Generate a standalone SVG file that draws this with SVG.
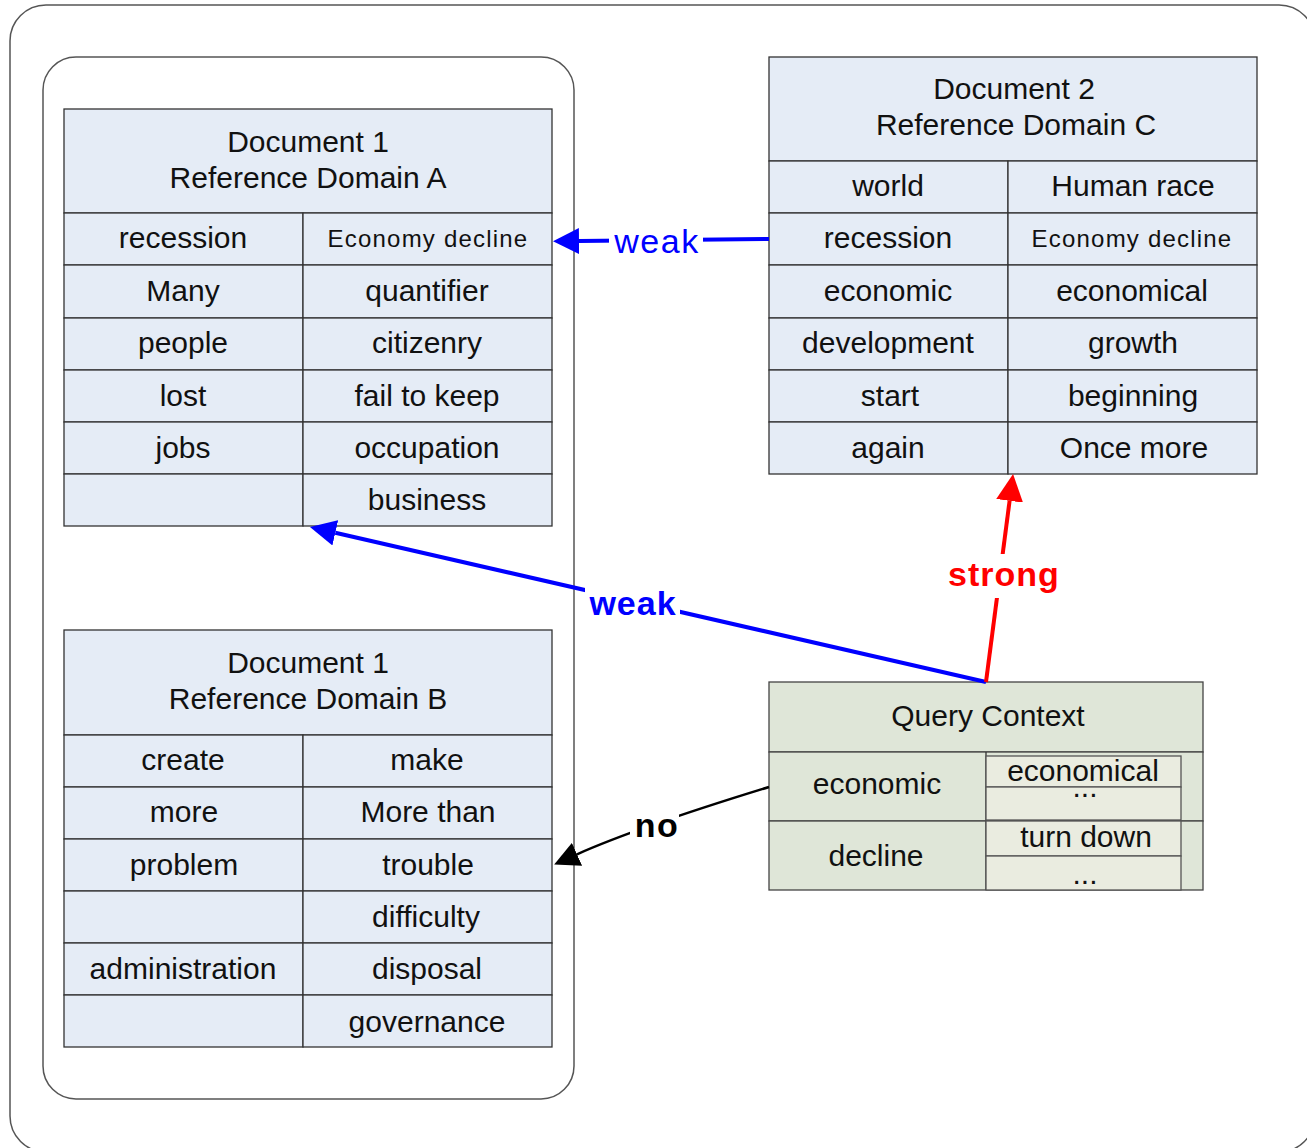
<svg xmlns="http://www.w3.org/2000/svg" width="1307" height="1148" viewBox="0 0 1307 1148">
<style>
.frame{fill:none;stroke:#555;stroke-width:1.5}
.cb{fill:#E5ECF6;stroke:#333;stroke-width:1.3}
.cg{fill:#DFE6D8;stroke:#444;stroke-width:1.3}
.ci{fill:#EAECE0;stroke:#555;stroke-width:1.3}
text{font-family:"Liberation Sans",Arial,sans-serif;font-size:30px;fill:#111;text-anchor:middle}
.sm{font-size:24px;letter-spacing:1.2px}
.bw{fill:#0000FF;font-size:34px;letter-spacing:1.5px}
.bwb{fill:#0000FF;font-weight:bold;font-size:34px;letter-spacing:1px}
.rs{fill:#FF0000;font-weight:bold;font-size:34px;letter-spacing:1px}
.kn{fill:#000;font-weight:bold;font-size:34px;letter-spacing:1.5px}
.gap{fill:#fff}
</style>
<defs>
<marker id="ab" viewBox="0 0 10 10" refX="0" refY="5" markerWidth="26" markerHeight="26" markerUnits="userSpaceOnUse" orient="auto"><path d="M0,0 L10,5 L0,10 z" fill="#0000FF"/></marker>
<marker id="ar" viewBox="0 0 10 10" refX="0" refY="5" markerWidth="27" markerHeight="28" markerUnits="userSpaceOnUse" orient="auto"><path d="M0,0 L10,5 L0,10 z" fill="#FF0000"/></marker>
<marker id="ak" viewBox="0 0 10 10" refX="0" refY="5" markerWidth="25" markerHeight="26" markerUnits="userSpaceOnUse" orient="auto"><path d="M0,0 L10,5 L0,10 z" fill="#000"/></marker>
</defs>
<rect width="1307" height="1148" fill="#fff"/>
<rect class="frame" x="10" y="5" width="1305" height="1147" rx="36" ry="36"/>
<rect class="frame" x="43" y="57" width="531" height="1042" rx="33" ry="33"/>

<g id="doc1a">
<rect class="cb" x="64" y="109" width="488" height="104"/>
<text x="308" y="152">Document 1</text>
<text x="308" y="188">Reference Domain A</text>
<rect class="cb" x="64" y="213" width="239" height="52"/><rect class="cb" x="303" y="213" width="249" height="52"/>
<rect class="cb" x="64" y="265" width="239" height="53"/><rect class="cb" x="303" y="265" width="249" height="53"/>
<rect class="cb" x="64" y="318" width="239" height="52"/><rect class="cb" x="303" y="318" width="249" height="52"/>
<rect class="cb" x="64" y="370" width="239" height="52"/><rect class="cb" x="303" y="370" width="249" height="52"/>
<rect class="cb" x="64" y="422" width="239" height="52"/><rect class="cb" x="303" y="422" width="249" height="52"/>
<rect class="cb" x="64" y="474" width="239" height="52"/><rect class="cb" x="303" y="474" width="249" height="52"/>
<text x="183" y="248">recession</text><text class="sm" x="428" y="247">Economy decline</text>
<text x="183" y="301">Many</text><text x="427" y="301">quantifier</text>
<text x="183" y="353">people</text><text x="427" y="353">citizenry</text>
<text x="183" y="406">lost</text><text x="427" y="406">fail to keep</text>
<text x="183" y="458">jobs</text><text x="427" y="458">occupation</text>
<text x="427" y="510">business</text>
</g>

<g id="doc2c">
<rect class="cb" x="769" y="57" width="488" height="104"/>
<text x="1014" y="99">Document 2</text>
<text x="1016" y="135">Reference Domain C</text>
<rect class="cb" x="769" y="161" width="239" height="52"/><rect class="cb" x="1008" y="161" width="249" height="52"/>
<rect class="cb" x="769" y="213" width="239" height="52"/><rect class="cb" x="1008" y="213" width="249" height="52"/>
<rect class="cb" x="769" y="265" width="239" height="53"/><rect class="cb" x="1008" y="265" width="249" height="53"/>
<rect class="cb" x="769" y="318" width="239" height="52"/><rect class="cb" x="1008" y="318" width="249" height="52"/>
<rect class="cb" x="769" y="370" width="239" height="52"/><rect class="cb" x="1008" y="370" width="249" height="52"/>
<rect class="cb" x="769" y="422" width="239" height="52"/><rect class="cb" x="1008" y="422" width="249" height="52"/>
<text x="888" y="196">world</text><text x="1133" y="196">Human race</text>
<text x="888" y="248">recession</text><text class="sm" x="1132" y="247">Economy decline</text>
<text x="888" y="301">economic</text><text x="1132" y="301">economical</text>
<text x="888" y="353">development</text><text x="1133" y="353">growth</text>
<text x="890" y="406">start</text><text x="1133" y="406">beginning</text>
<text x="888" y="458">again</text><text x="1134" y="458">Once more</text>
</g>

<g id="doc1b">
<rect class="cb" x="64" y="630" width="488" height="105"/>
<text x="308" y="673">Document 1</text>
<text x="308" y="709">Reference Domain B</text>
<rect class="cb" x="64" y="735" width="239" height="52"/><rect class="cb" x="303" y="735" width="249" height="52"/>
<rect class="cb" x="64" y="787" width="239" height="52"/><rect class="cb" x="303" y="787" width="249" height="52"/>
<rect class="cb" x="64" y="839" width="239" height="52"/><rect class="cb" x="303" y="839" width="249" height="52"/>
<rect class="cb" x="64" y="891" width="239" height="52"/><rect class="cb" x="303" y="891" width="249" height="52"/>
<rect class="cb" x="64" y="943" width="239" height="52"/><rect class="cb" x="303" y="943" width="249" height="52"/>
<rect class="cb" x="64" y="995" width="239" height="52"/><rect class="cb" x="303" y="995" width="249" height="52"/>
<text x="183" y="770">create</text><text x="427" y="770">make</text>
<text x="184" y="822">more</text><text x="428" y="822">More than</text>
<text x="184" y="875">problem</text><text x="428" y="875">trouble</text>
<text x="426" y="927">difficulty</text>
<text x="183" y="979">administration</text><text x="427" y="979">disposal</text>
<text x="427" y="1032">governance</text>
</g>

<g id="query">
<rect class="cg" x="769" y="682" width="434" height="70"/>
<text x="988" y="726">Query Context</text>
<rect class="cg" x="769" y="752" width="434" height="69"/>
<rect class="cg" x="769" y="821" width="434" height="69"/>
<line x1="986" y1="752" x2="986" y2="890" stroke="#333" stroke-width="1.3"/>
<rect class="ci" x="986" y="756" width="195" height="31"/>
<rect class="ci" x="986" y="787" width="195" height="33"/>
<rect class="ci" x="986" y="821" width="195" height="35"/>
<rect class="ci" x="986" y="856" width="195" height="34"/>
<text x="877" y="794">economic</text>
<text x="876" y="866">decline</text>
<text x="1083" y="781">economical</text>
<text x="1085" y="797">...</text>
<text x="1086" y="847">turn down</text>
<text x="1085" y="884">...</text>
</g>

<g id="connectors">
<path d="M769,239 L579,241" fill="none" stroke="#0000FF" stroke-width="4" marker-end="url(#ab)"/>
<rect class="gap" x="609" y="222" width="94" height="38"/>
<text class="bw" x="657" y="253">weak</text>

<path d="M986,682 L335.3,532.8" fill="none" stroke="#0000FF" stroke-width="4" marker-end="url(#ab)"/>
<rect class="gap" x="585" y="584" width="95" height="36"/>
<text class="bwb" x="633" y="615">weak</text>

<path d="M986,682 L1009.6,500.8" fill="none" stroke="#FF0000" stroke-width="4" marker-end="url(#ar)"/>
<rect class="gap" x="944" y="554" width="120" height="44"/>
<text class="rs" x="1004" y="586">strong</text>

<path d="M769,787 Q637,827.5 577,854.3" fill="none" stroke="#000" stroke-width="2.5" marker-end="url(#ak)"/>
<rect class="gap" x="630" y="806" width="49" height="34"/>
<text class="kn" x="657" y="837">no</text>
</g>
</svg>
